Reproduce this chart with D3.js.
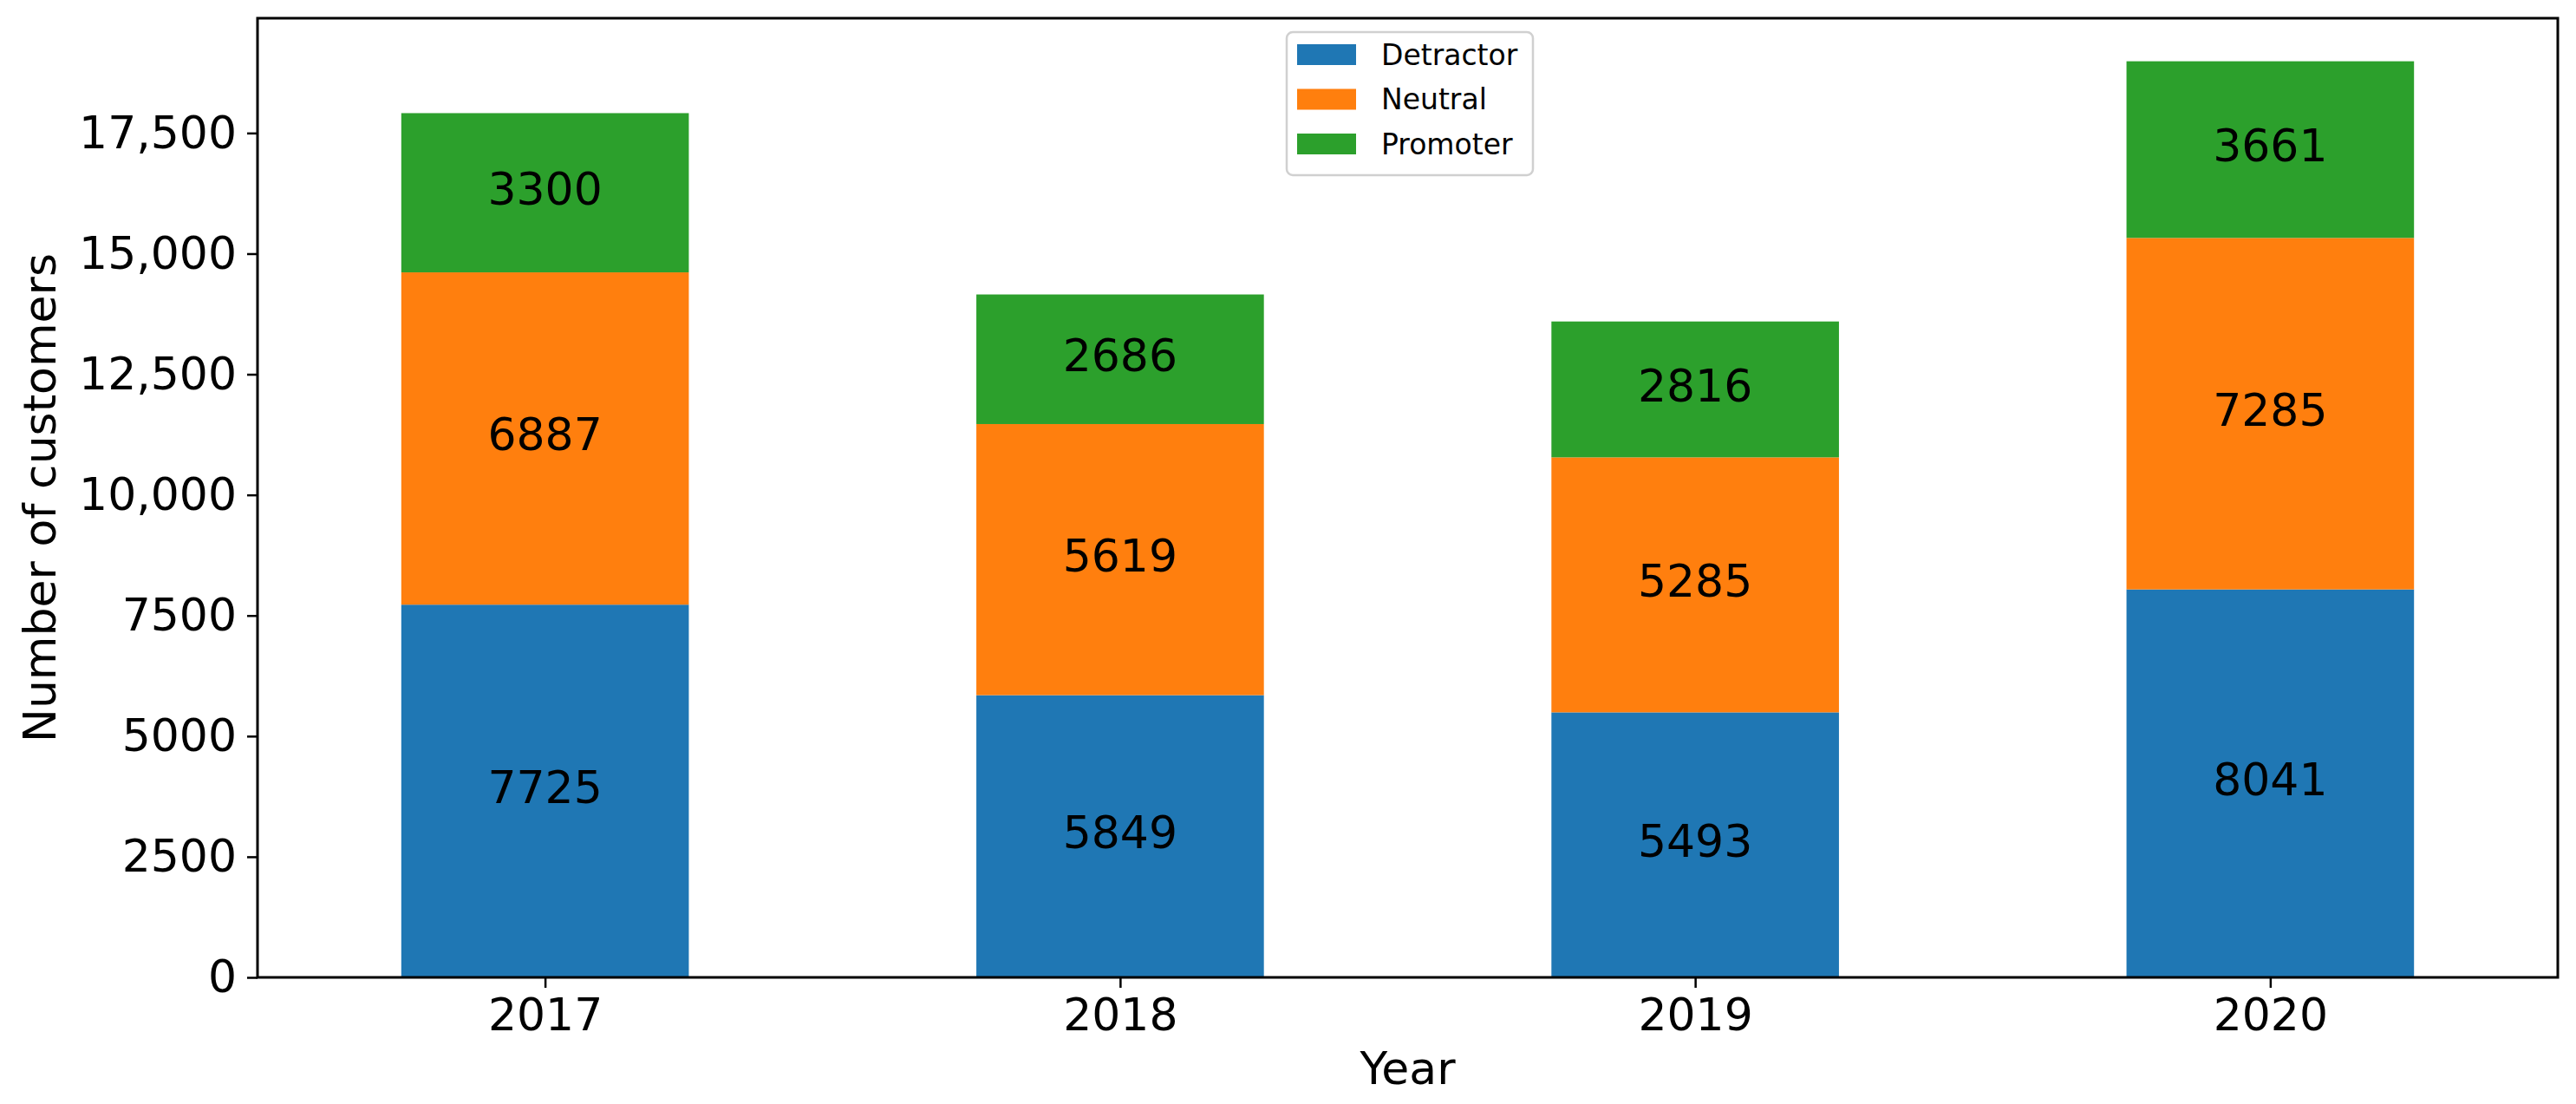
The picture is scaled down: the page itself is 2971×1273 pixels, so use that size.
<!DOCTYPE html>
<html>
<head>
<meta charset="utf-8">
<script src="https://cdn.jsdelivr.net/npm/d3@7"></script>
<style>
  body { margin: 0; background: #fff; }
  svg { display: block; font-family: "DejaVu Sans", sans-serif; }
</style>
</head>
<body>
<svg id="chart"></svg>
<script>
const years = ['2017', '2018', '2019', '2020'];
const categories = ['Detractor', 'Neutral', 'Promoter'];
const detractor = [7725, 5849, 5493, 8041];
const neutral = [6887, 5619, 5285, 7285];
const promoter = [3300, 2686, 2816, 3661];
const yTicks = [0, 2500, 5000, 7500, 10000, 12500, 15000, 17500];
const yTickLabels = ['0', '2500', '5000', '7500', '10,000', '12,500', '15,000', '17,500'];
const colorList = ['#1f77b4', '#ff7f0e', '#2ca02c'];

const width = 2971;
const height = 1273;
const margin = { top: 21, right: 21, bottom: 146, left: 297 };

const svg = d3.select('#chart')
    .attr('width', width)
    .attr('height', height);

const rows = years.map((y, i) => ({
    year: y,
    Detractor: detractor[i],
    Neutral: neutral[i],
    Promoter: promoter[i]
}));

const stacked = d3.stack().keys(categories)(rows);
const maxTotal = d3.max(rows, d => d.Detractor + d.Neutral + d.Promoter);

// bar positions like matplotlib: centers at 0..3, width 0.5, limits -0.5..3.5
const xScale = d3.scaleLinear()
    .domain([-0.5, years.length - 0.5])
    .range([margin.left, width - margin.right]);

const yScale = d3.scaleLinear()
    .domain([0, maxTotal * 1.047])
    .range([height - margin.bottom, margin.top]);

const color = d3.scaleOrdinal().domain(categories).range(colorList);
const barWidth = 0.5;

const layers = svg.append('g')
    .selectAll('g')
    .data(stacked)
    .join('g')
    .attr('fill', d => color(d.key));

layers.selectAll('rect')
    .data(d => d)
    .join('rect')
    .attr('x', (d, i) => xScale(i - barWidth / 2))
    .attr('width', xScale(barWidth) - xScale(0))
    .attr('y', d => yScale(d[1]))
    .attr('height', d => yScale(d[0]) - yScale(d[1]));

// value labels in the middle of each segment
layers.selectAll('text')
    .data(d => d.map(v => ({ v, key: d.key })))
    .join('text')
    .attr('x', (d, i) => xScale(i))
    .attr('y', d => yScale((d.v[0] + d.v[1]) / 2))
    .attr('dy', '0.265em')
    .attr('text-anchor', 'middle')
    .attr('font-size', '52px')
    .attr('fill', '#000')
    .text(d => d.v.data[d.key]);

// axes
const xAxis = d3.axisBottom(xScale)
    .tickValues(d3.range(years.length))
    .tickFormat(i => years[i])
    .tickSize(12)
    .tickPadding(12);

const yAxis = d3.axisLeft(yScale)
    .tickValues(yTicks)
    .tickFormat((d, i) => yTickLabels[i])
    .tickSize(12)
    .tickPadding(12);

const gx = svg.append('g')
    .attr('transform', `translate(0, ${height - margin.bottom})`)
    .call(xAxis);

const gy = svg.append('g')
    .attr('transform', `translate(${margin.left}, 0)`)
    .call(yAxis);

[gx, gy].forEach(g => {
    g.selectAll('.domain').remove();
    g.selectAll('.tick line').attr('stroke', '#000').attr('stroke-width', 2.5);
    g.selectAll('.tick text')
        .attr('font-size', '52px')
        .attr('font-family', '"DejaVu Sans", sans-serif')
        .attr('fill', '#000');
});

// frame
svg.append('rect')
    .attr('x', margin.left)
    .attr('y', margin.top)
    .attr('width', width - margin.left - margin.right)
    .attr('height', height - margin.top - margin.bottom)
    .attr('fill', 'none')
    .attr('stroke', '#000')
    .attr('stroke-width', 3);

svg.append('text')
    .attr('x', (margin.left + width - margin.right) / 2)
    .attr('y', 1250)
    .attr('text-anchor', 'middle')
    .attr('font-size', '52px')
    .text('Year');

svg.append('text')
    .attr('transform', 'rotate(-90)')
    .attr('x', -(margin.top + height - margin.bottom) / 2)
    .attr('y', 64)
    .attr('text-anchor', 'middle')
    .attr('font-size', '52px')
    .text('Number of customers');

// legend
const legend = svg.append('g').attr('transform', 'translate(1484, 37)');

legend.append('rect')
    .attr('width', 284)
    .attr('height', 165)
    .attr('rx', 7)
    .attr('fill', '#fff')
    .attr('fill-opacity', 0.8)
    .attr('stroke', '#d0d0d0')
    .attr('stroke-width', 2.5);

const items = legend.selectAll('.item')
    .data(categories)
    .join('g')
    .attr('class', 'item')
    .attr('transform', (d, i) => `translate(0, ${26 + i * 51.5})`);

items.append('rect')
    .attr('x', 12)
    .attr('y', -12)
    .attr('width', 68)
    .attr('height', 24)
    .attr('fill', d => color(d));

items.append('text')
    .attr('x', 109)
    .attr('dy', '0.36em')
    .attr('font-size', '33px')
    .text(d => d);
</script>
</body>
</html>
